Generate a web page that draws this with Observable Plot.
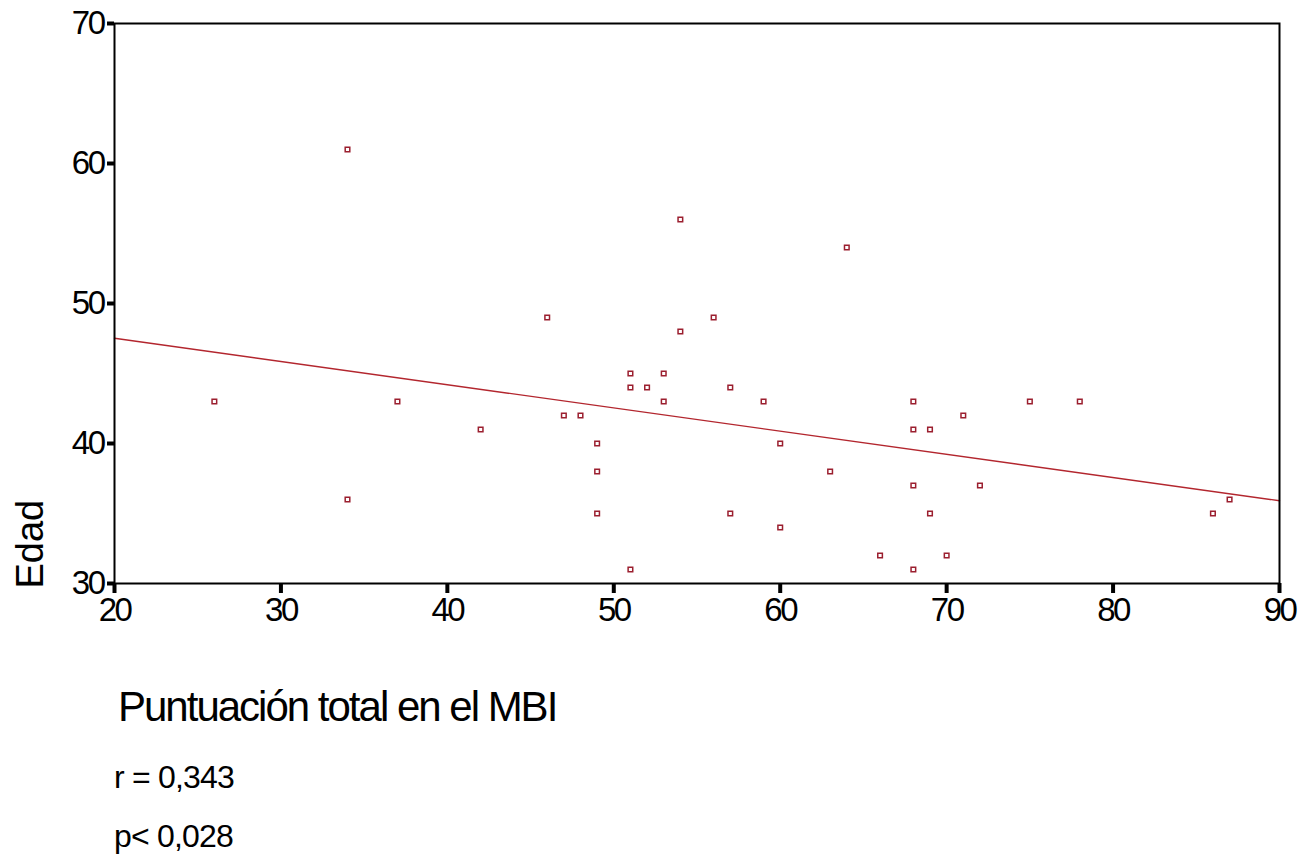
<!DOCTYPE html>
<html>
<head>
<meta charset="utf-8">
<script src="https://cdn.jsdelivr.net/npm/d3@7"></script>
<script src="https://cdn.jsdelivr.net/npm/@observablehq/plot@0.6"></script>
<style>
  html, body { margin: 0; padding: 0; background: #fff; }
  #wrap { position: relative; width: 1314px; height: 858px; font-family: "Liberation Sans", Arial, sans-serif; color: #000; }
  #chart { position: absolute; left: 0; top: 0; }
  .note { position: absolute; white-space: nowrap; line-height: 1; }
  #xlabel { left: 118px; top: 686px; font-size: 42px; letter-spacing: -2px; }
  #rtext { left: 114px; top: 761px; font-size: 32px; letter-spacing: -0.8px; }
  #ptext { left: 114px; top: 820px; font-size: 32px; letter-spacing: -0.8px; }
  g[aria-label$="tick label"] text { letter-spacing: -2.5px; }
</style>
</head>
<body>
<div id="wrap">
  <div id="chart"></div>
  <div class="note" id="xlabel">Puntuación total en el MBI</div>
  <div class="note" id="rtext">r = 0,343</div>
  <div class="note" id="ptext">p&lt; 0,028</div>
</div>
<script>
// Puntuación total en el MBI (x) and Edad (y)
const mbi  = [26, 34, 34, 37, 42, 46, 47, 48, 49, 49, 49, 51, 51, 51, 52, 53, 53, 54, 54, 56, 57, 57, 59, 60, 60, 63, 64, 66, 68, 68, 68, 68, 69, 69, 70, 71, 72, 75, 78, 86, 87];
const edad = [43, 61, 36, 43, 41, 49, 42, 42, 40, 38, 35, 45, 44, 31, 44, 45, 43, 56, 48, 49, 44, 35, 43, 40, 34, 38, 54, 32, 43, 41, 37, 31, 41, 35, 32, 42, 37, 43, 43, 35, 36];
const xTicks = [20, 30, 40, 50, 60, 70, 80, 90];
const yTicks = [30, 40, 50, 60, 70];
const xDomain = [20, 90];
const yDomain = [30, 70];

const points = mbi.map((x, i) => ({x, y: edad[i]}));

// least-squares fit line across the full x domain
const mx = d3.mean(mbi), my = d3.mean(edad);
const sxy = d3.sum(mbi, (x, i) => (x - mx) * (edad[i] - my));
const sxx = d3.sum(mbi, x => (x - mx) ** 2);
const slope = sxy / sxx, intercept = my - slope * mx;
const fit = xDomain.map(x => ({x, y: intercept + slope * x}));

const chart = Plot.plot({
  width: 1314,
  height: 640,
  marginLeft: 114,
  marginRight: 35,
  marginTop: 23,
  marginBottom: 57,
  x: {domain: xDomain},
  y: {domain: yDomain},
  style: {fontFamily: "'Liberation Sans', Arial, sans-serif", fontSize: "33px", color: "#000", background: "#fff", overflow: "visible"},
  marks: [
    Plot.axisY(yTicks, {tickSize: 7, tickPadding: 4, strokeWidth: 4, label: null, fontSize: 33}),
    Plot.axisX(xTicks, {tickSize: 10, tickPadding: 4, strokeWidth: 4, label: null, fontSize: 33}),
    Plot.line(fit, {x: "x", y: "y", stroke: "#b3262e", strokeWidth: 1.4}),
    Plot.dot(points, {x: "x", y: "y", symbol: "square", r: 2.6, stroke: "#9b1f2f", strokeWidth: 1.5, fill: "none"}),
    Plot.frame({stroke: "#000", strokeWidth: 2}),
    Plot.text(["Edad"], {text: d => d, frameAnchor: "bottom-left", rotate: -90, textAnchor: "start", dx: -72, dy: 5, fontSize: 38, letterSpacing: -1})
  ]
});
document.getElementById("chart").appendChild(chart);
</script>
</body>
</html>
